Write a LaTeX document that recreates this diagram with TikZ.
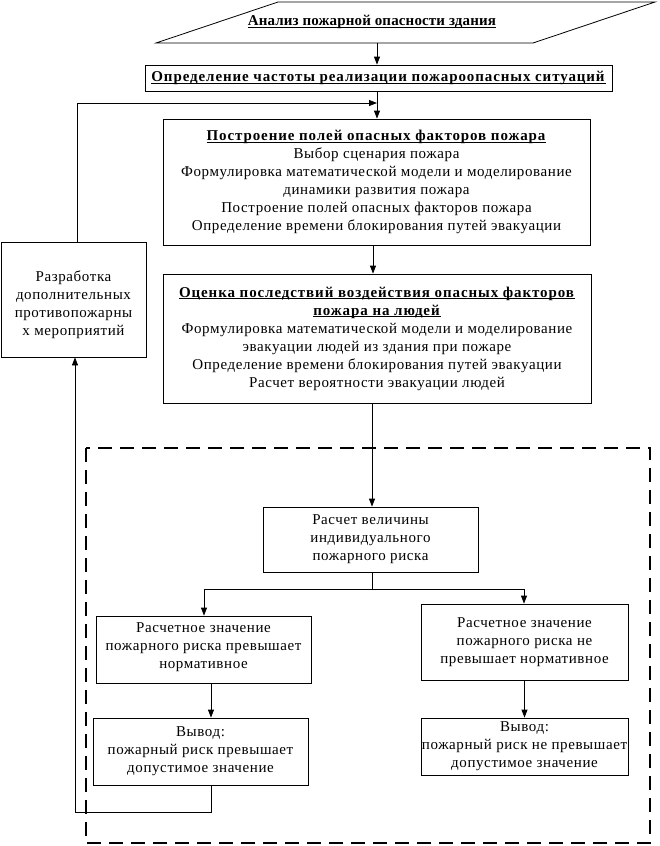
\documentclass[tikz,border=0pt]{standalone}
\usepackage{fontspec}
\setmainfont{Liberation Serif}
\usetikzlibrary{arrows.meta}
\newcommand\diagfont{\fontsize{15}{18}\selectfont\addfontfeature{LetterSpace=4}}
\newcommand\ulbox[1]{{\setbox0\hbox{#1}\rlap{\rule[-2pt]{\wd0}{0.8pt}}\box0}}
\newcommand\bt[1]{\ulbox{\addfontfeature{LetterSpace=6}\textbf{#1}}}
\begin{document}
\begin{tikzpicture}[x=1pt,y=-1pt,
  box/.style={draw, line width=0.8pt, align=center, inner sep=0pt, font=\diagfont},
  conn/.style={line width=0.8pt},
  arr/.style={line width=0.8pt, -{Triangle[length=8pt,width=6pt]}},
  dashbox/.style={line width=1.8pt, dash pattern=on 14pt off 8pt}]
\useasboundingbox (0,0) rectangle (659,846);
% title parallelogram
\draw[line width=0.8pt] (156,43) -- (278,2) -- (655,2) -- (533,43) -- cycle;
\node[font=\diagfont, inner sep=0pt] (title) at (372,22)
  {\ulbox{\addfontfeature{LetterSpace=1}\textbf{Анализ пожарной опасности здания}}};
\coordinate (titlebot) at (377,43);
\node[box, minimum width=467pt, minimum height=26pt] (freq) at (378.5,78)
  {\bt{Определение частоты реализации пожароопасных ситуаций}};
\node[box, minimum width=427pt, minimum height=126pt] (fields) at (376.5,182)
  {\bt{Построение полей опасных факторов пожара}\\
   Выбор сценария пожара\\
   Формулировка математической модели и моделирование\\
   динамики развития пожара\\
   Построение полей опасных факторов пожара\\
   Определение времени блокирования путей эвакуации};
\node[box, minimum width=428pt, minimum height=129pt] (effects) at (377,338.5)
  {\bt{Оценка последствий воздействия опасных факторов}\\
   \bt{пожара на людей}\\
   Формулировка математической модели и моделирование\\
   эвакуации людей из здания при пожаре\\
   Определение времени блокирования путей эвакуации\\
   Расчет вероятности эвакуации людей};
\node[box, minimum width=145pt, minimum height=115pt] (measures) at (73.5,299.5)
  {\rule{0pt}{22pt}Разработка\\ дополнительных\\ противопожарны\\ х мероприятий};
% dashed region
\draw[dashbox] (86,448) rectangle (650,843);
\node[box, minimum width=215pt, minimum height=65pt] (calc) at (370.5,539.5)
  {Расчет величины\\ индивидуального\\ пожарного риска};
\node[box, minimum width=215pt, minimum height=67pt] (exceed) at (203.5,649.5)
  {Расчетное значение\\ пожарного риска превышает\\ нормативное\rule[-8pt]{0pt}{8pt}};
\node[box, minimum width=215pt, minimum height=67pt] (outexc) at (200.5,751.5)
  {Вывод:\\ пожарный риск превышает\\ допустимое значение};
\node[box, minimum width=207pt, minimum height=76pt] (nexceed) at (524.5,642)
  {Расчетное значение\\ пожарного риска не\\ превышает нормативное};
\node[box, minimum width=207pt, minimum height=57pt] (outnexc) at (524.5,746.5)
  {Вывод:\\ пожарный риск не превышает\\ допустимое значение};
% connectors
\draw[arr] (titlebot) -- (titlebot |- freq.north);
\draw[arr] (freq.south -| titlebot) -- (titlebot |- fields.north);
\coordinate (join) at (377,103);
\draw[arr] (measures.north -| 77,0) -- (77,103) -- (join);
\draw[arr] (fields.south -| 373,0) -- (effects.north -| 373,0);
\draw[arr] (effects.south -| 372,0) -- (calc.north -| 372,0);
\coordinate (split) at (372,589);
\draw[conn] (calc.south -| split) -- (split);
\draw[arr] (split) -- (204,589) -- (exceed.north -| 204,0);
\draw[arr] (split) -- (524,589) -- (nexceed.north -| 524,0);
\draw[arr] (exceed.south -| 211,0) -- (outexc.north -| 211,0);
\draw[arr] (nexceed.south) -- (outnexc.north);
\draw[arr] (outexc.south -| 211,0) -- (211,812) -- (75,812) -- (measures.south -| 75,0);
\end{tikzpicture}
\end{document}
